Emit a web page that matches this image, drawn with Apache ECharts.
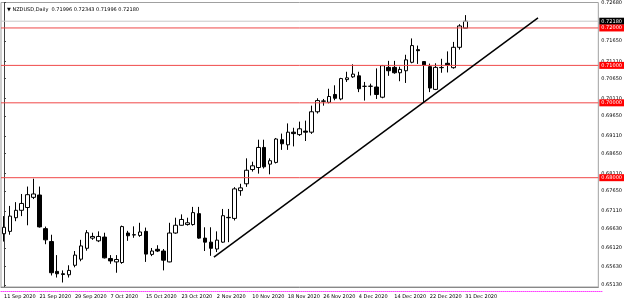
<!DOCTYPE html>
<html>
<head>
<meta charset="utf-8">
<script src="https://cdn.jsdelivr.net/npm/echarts@6/dist/echarts.min.js"></script>
<style>
html, body { margin: 0; padding: 0; background: #fff; }
#main { width: 625px; height: 302px; }
</style>
</head>
<body>
<div id="main"></div>
<script>
// NZDUSD daily, 11 Sep 2020 - 31 Dec 2020
var dates = [
    '11 Sep 2020', '14 Sep 2020', '15 Sep 2020', '16 Sep 2020', '17 Sep 2020', '18 Sep 2020',
    '21 Sep 2020', '22 Sep 2020', '23 Sep 2020', '24 Sep 2020', '25 Sep 2020', '28 Sep 2020',
    '29 Sep 2020', '30 Sep 2020', '1 Oct 2020', '2 Oct 2020', '5 Oct 2020', '6 Oct 2020',
    '7 Oct 2020', '8 Oct 2020', '9 Oct 2020', '12 Oct 2020', '13 Oct 2020', '14 Oct 2020',
    '15 Oct 2020', '16 Oct 2020', '19 Oct 2020', '20 Oct 2020', '21 Oct 2020', '22 Oct 2020',
    '23 Oct 2020', '26 Oct 2020', '27 Oct 2020', '28 Oct 2020', '29 Oct 2020', '30 Oct 2020',
    '2 Nov 2020', '3 Nov 2020', '4 Nov 2020', '5 Nov 2020', '6 Nov 2020', '9 Nov 2020',
    '10 Nov 2020', '11 Nov 2020', '12 Nov 2020', '13 Nov 2020', '16 Nov 2020', '17 Nov 2020',
    '18 Nov 2020', '19 Nov 2020', '20 Nov 2020', '23 Nov 2020', '24 Nov 2020', '25 Nov 2020',
    '26 Nov 2020', '27 Nov 2020', '30 Nov 2020', '1 Dec 2020', '2 Dec 2020', '3 Dec 2020',
    '4 Dec 2020', '7 Dec 2020', '8 Dec 2020', '9 Dec 2020', '10 Dec 2020', '11 Dec 2020',
    '14 Dec 2020', '15 Dec 2020', '16 Dec 2020', '17 Dec 2020', '18 Dec 2020', '21 Dec 2020',
    '22 Dec 2020', '23 Dec 2020', '24 Dec 2020', '28 Dec 2020', '29 Dec 2020', '30 Dec 2020',
    '31 Dec 2020'
];

var opens = [
    0.66503, 0.66566, 0.66931, 0.67129, 0.67203, 0.67475, 0.67537, 0.66639, 0.66294, 0.65497,
    0.65434, 0.65407, 0.65660, 0.65823, 0.66114, 0.66386, 0.66313, 0.66414, 0.65842, 0.65750,
    0.65734, 0.66522, 0.66476, 0.66457, 0.66566, 0.65951, 0.66087, 0.66041, 0.65750, 0.66522,
    0.66729, 0.66748, 0.66748, 0.67040, 0.66386, 0.66278, 0.66095, 0.66278, 0.66931, 0.66912,
    0.67654, 0.67837, 0.68218, 0.68272, 0.68808, 0.68362, 0.68408, 0.69015, 0.68879, 0.69216,
    0.69151, 0.69244, 0.69216, 0.69761, 0.70041, 0.70014, 0.70223, 0.70103, 0.70620, 0.70694,
    0.70721, 0.70441, 0.70441, 0.70422, 0.70150, 0.70947, 0.70947, 0.70803, 0.70857, 0.71083,
    0.71420, 0.71102, 0.70966, 0.70359, 0.70939, 0.71056, 0.70939, 0.71483, 0.71996
];
var closes = [
    0.66675, 0.66974, 0.67129, 0.67312, 0.67546, 0.67565, 0.66686, 0.66340, 0.65461, 0.65434,
    0.65415, 0.65524, 0.65932, 0.66177, 0.66530, 0.66430, 0.66430, 0.65859, 0.65777, 0.65815,
    0.66694, 0.66449, 0.66470, 0.66550, 0.65959, 0.66041, 0.66041, 0.65796, 0.66522, 0.66729,
    0.66884, 0.66795, 0.67067, 0.66386, 0.66278, 0.66114, 0.66332, 0.66985, 0.66940, 0.67701,
    0.67728, 0.68199, 0.68318, 0.68808, 0.68291, 0.68454, 0.69034, 0.68906, 0.69216, 0.69178,
    0.69306, 0.69216, 0.69761, 0.70060, 0.70050, 0.70169, 0.70122, 0.70648, 0.70667, 0.70767,
    0.70376, 0.70441, 0.70445, 0.70223, 0.70993, 0.70857, 0.70803, 0.70893, 0.71148, 0.71529,
    0.71393, 0.71012, 0.70395, 0.70947, 0.70945, 0.71012, 0.71483, 0.72054, 0.72180
];
var lows = [
    0.66294, 0.66476, 0.66838, 0.66974, 0.66729, 0.67429, 0.66667, 0.66223, 0.65388, 0.65333,
    0.65200, 0.65333, 0.65606, 0.65768, 0.66050, 0.66340, 0.66280, 0.65842, 0.65700, 0.65461,
    0.65700, 0.66313, 0.66394, 0.66420, 0.65750, 0.65905, 0.66014, 0.65524, 0.65740, 0.66503,
    0.66720, 0.66720, 0.66720, 0.66367, 0.66041, 0.65913, 0.66014, 0.66260, 0.66278, 0.66857,
    0.67518, 0.67755, 0.68163, 0.68109, 0.68245, 0.68090, 0.68380, 0.68743, 0.68743, 0.68836,
    0.69115, 0.68980, 0.69170, 0.69714, 0.69924, 0.69986, 0.70068, 0.70068, 0.70558, 0.70667,
    0.70286, 0.70060, 0.70196, 0.70103, 0.70122, 0.70721, 0.70776, 0.70577, 0.70531, 0.71056,
    0.71039, 0.70014, 0.70286, 0.70340, 0.70803, 0.70811, 0.70912, 0.71420, 0.71996
];
var highs = [
    0.66974, 0.67246, 0.67347, 0.67565, 0.67763, 0.67973, 0.67763, 0.66694, 0.66476, 0.65932,
    0.65524, 0.65660, 0.66041, 0.66340, 0.66600, 0.66530, 0.66566, 0.66530, 0.65932, 0.65932,
    0.66720, 0.66580, 0.66700, 0.66795, 0.66667, 0.66122, 0.66196, 0.66095, 0.66795, 0.66931,
    0.67020, 0.66931, 0.67220, 0.67220, 0.66675, 0.66675, 0.66566, 0.67165, 0.67165, 0.67747,
    0.67837, 0.68517, 0.68427, 0.69015, 0.69015, 0.68517, 0.69061, 0.69178, 0.69450, 0.69333,
    0.69497, 0.69524, 0.69924, 0.70122, 0.70103, 0.70376, 0.70468, 0.70667, 0.70830, 0.71029,
    0.70830, 0.70558, 0.70512, 0.70920, 0.71012, 0.71121, 0.71121, 0.70966, 0.71284, 0.71720,
    0.71529, 0.71102, 0.71048, 0.71056, 0.71176, 0.71374, 0.71627, 0.72100, 0.72343
];

var priceTicks = [0.72680, 0.71650, 0.71110, 0.70650, 0.70110, 0.69650, 0.69110, 0.68650,
    0.68110, 0.67650, 0.67110, 0.66630, 0.66120, 0.65630, 0.65130];
var levels = [0.72000, 0.71000, 0.70000, 0.68000];
var lastPrice = 0.72180;
var trendX = [35.5, 90.3];
var trendY = [0.65878, 0.72272];
var emptySlots = 22;
var titleText = '\u25BC NZDUSD,Daily  0.71996 0.72343 0.71996 0.72180';

(function () {
    var font = 'DejaVu Sans';
    var cats = dates.slice();
    for (var k = 0; k < emptySlots; k++) {
        cats.push('');
    }
    var slots = cats.length;

    var candles = [];
    for (var i = 0; i < dates.length; i++) {
        candles.push([opens[i], closes[i], lows[i], highs[i]]);
    }

    // horizontal price line across the window, price box at its right end
    function hLine(v, lineColor, boxColor) {
        return {
            type: 'line',
            xAxisIndex: 1,
            yAxisIndex: 0,
            data: [[-0.5, v], [slots - 0.5, v]],
            symbol: 'none',
            silent: true,
            clip: false,
            lineStyle: {color: lineColor, width: 1, type: 'solid'},
            itemStyle: {color: lineColor},
            endLabel: {
                show: true,
                distance: 1,
                fontSize: 5,
                fontFamily: font,
                color: '#ffffff',
                backgroundColor: boxColor,
                padding: [1, 2, 1, 2],
                formatter: function () { return v.toFixed(5); }
            }
        };
    }

    var series = [hLine(lastPrice, '#c8c8c8', '#000000')];
    levels.forEach(function (v) {
        series.push(hLine(v, '#f04848', '#ff0000'));
    });
    series.push({
        type: 'candlestick',
        xAxisIndex: 0,
        yAxisIndex: 0,
        data: candles,
        barWidth: 4,
        itemStyle: {
            color: '#fff',
            color0: '#000',
            borderColor: '#000',
            borderColor0: '#000',
            borderWidth: 1
        }
    });
    series.push({
        type: 'line',
        xAxisIndex: 1,
        yAxisIndex: 0,
        data: [[trendX[0], trendY[0]], [trendX[1], trendY[1]]],
        symbol: 'none',
        lineStyle: {color: '#000', width: 1.5}
    });

    var chart = echarts.init(document.getElementById('main'));
    chart.setOption({
        animation: false,
        backgroundColor: '#fff',
        title: {
            text: titleText,
            left: 2,
            top: 2,
            textStyle: {fontSize: 5, fontWeight: 'normal', color: '#000', fontFamily: font}
        },
        grid: [
            {left: 1, right: 23, top: 2, bottom: 15, show: true, borderColor: '#a0a0a0', borderWidth: 1},
            {left: 1, right: 23, top: 290, height: 1, show: false}
        ],
        xAxis: [
            {
                type: 'category',
                gridIndex: 0,
                data: cats,
                boundaryGap: true,
                axisLine: {show: true, lineStyle: {color: '#888', width: 1}},
                axisTick: {show: false},
                axisLabel: {
                    fontSize: 5,
                    fontFamily: font,
                    color: '#000',
                    align: 'left',
                    margin: 7,
                    interval: function (index) {
                        return index < dates.length && index % 6 === 0;
                    }
                },
                splitLine: {show: false}
            },
            {
                type: 'value',
                gridIndex: 0,
                show: false,
                min: -0.5,
                max: slots - 0.5
            },
            {
                type: 'category',
                gridIndex: 1,
                data: cats,
                axisLine: {show: true, onZero: false, lineStyle: {color: '#ff40ff', width: 1, type: 'dotted'}},
                axisTick: {show: false},
                axisLabel: {show: false}
            }
        ],
        yAxis: [
            {
                type: 'value',
                gridIndex: 0,
                position: 'right',
                min: 0.6508,
                max: 0.7268,
                axisLine: {show: true, lineStyle: {color: '#404040', width: 1}},
                axisTick: {show: true, length: 2, customValues: priceTicks, lineStyle: {color: '#404040'}},
                axisLabel: {
                    customValues: priceTicks,
                    fontSize: 5,
                    fontFamily: font,
                    color: '#000',
                    margin: 3,
                    padding: [5, 0, 0, 0],
                    formatter: function (v) { return v.toFixed(5); }
                },
                splitLine: {show: false}
            },
            {
                type: 'value',
                gridIndex: 1,
                show: false
            }
        ],
        series: series
    });
})();
</script>
</body>
</html>
